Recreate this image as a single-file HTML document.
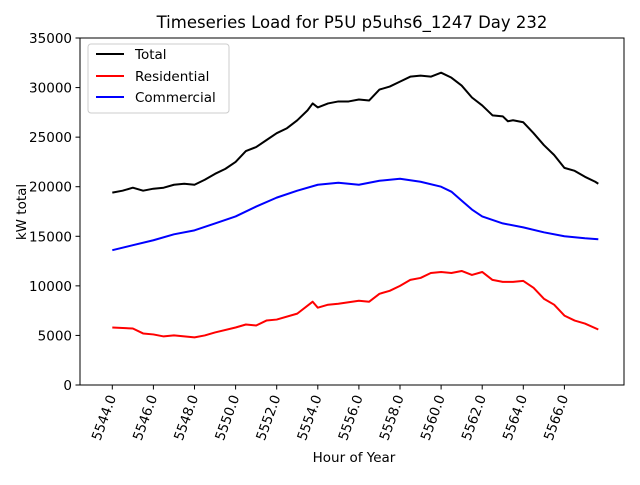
<!DOCTYPE html>
<html><head><meta charset="utf-8"><style>
body{margin:0;background:#fff}
svg{font-family:"DejaVu Sans","Liberation Sans",sans-serif}
</style></head><body>
<svg id="chart" width="640" height="480" viewBox="0 0 640 480">
<rect width="640" height="480" fill="#fff"/>
<text x="352" y="28" text-anchor="middle" font-size="16.5">Timeseries Load for P5U p5uhs6_1247  Day 232</text>
<g id="grid"></g>
<g id="series"></g>
<rect x="80" y="38" width="544" height="347" fill="none" stroke="#000" stroke-width="1"/>
<text x="354" y="462" text-anchor="middle" font-size="13.5">Hour of Year</text>
<text transform="translate(26,212) rotate(-90)" text-anchor="middle" font-size="13.5">kW total</text>
<g>
<rect x="88" y="44" width="141" height="69" rx="3" fill="#fff" fill-opacity="0.8" stroke="#ccc"/>
<g><line x1="96" y1="54" x2="124" y2="54" stroke="#000" stroke-width="2"/><text x="135" y="59" font-size="13.5">Total</text></g>
<g><line x1="96" y1="76" x2="124" y2="76" stroke="red" stroke-width="2"/><text x="135" y="81" font-size="13.5">Residential</text></g>
<g><line x1="96" y1="97" x2="124" y2="97" stroke="blue" stroke-width="2"/><text x="135" y="102" font-size="13.5">Commercial</text></g>
</g>
</svg>
<script>
const xTicks=[5544,5546,5548,5550,5552,5554,5556,5558,5560,5562,5564,5566];
const yTicks=[0,5000,10000,15000,20000,25000,30000,35000];
const totalHours=[5544,5544.5,5545,5545.5,5546,5546.5,5547,5547.5,5548,5548.5,5549,5549.5,5550,5550.5,5551,5551.5,5552,5552.5,5553,5553.5,5553.75,5554,5554.5,5555,5555.5,5556,5556.5,5557,5557.5,5558,5558.5,5559,5559.5,5560,5560.5,5561,5561.5,5562,5562.5,5563,5563.25,5563.5,5564,5564.5,5565,5565.5,5566,5566.5,5567,5567.5,5567.65];
const totalVals=[19400,19600,19900,19600,19800,19900,20200,20300,20200,20700,21300,21800,22500,23600,24000,24700,25400,25900,26700,27700,28400,28000,28400,28600,28600,28800,28700,29800,30100,30600,31100,31200,31100,31500,31000,30200,29000,28200,27200,27100,26600,26700,26500,25400,24200,23200,21900,21600,21000,20500,20300];
const comHours=[5544,5545,5546,5547,5548,5549,5550,5551,5552,5553,5554,5555,5556,5557,5558,5559,5560,5560.5,5561,5561.5,5562,5563,5564,5565,5566,5567,5567.65];
const comVals=[13600,14100,14600,15200,15600,16300,17000,18000,18900,19600,20200,20400,20200,20600,20800,20500,20000,19500,18600,17700,17000,16300,15900,15400,15000,14800,14700];
const resHours=[5544,5545,5545.5,5546,5546.5,5547,5548,5548.5,5549,5550,5550.5,5551,5551.5,5552,5553,5553.5,5553.75,5554,5554.5,5555,5556,5556.5,5557,5557.5,5558,5558.5,5559,5559.5,5560,5560.5,5561,5561.5,5562,5562.5,5563,5563.5,5564,5564.5,5565,5565.5,5566,5566.5,5567,5567.65];
const resVals=[5800,5700,5200,5100,4900,5000,4800,5000,5300,5800,6100,6000,6500,6600,7200,8000,8400,7800,8100,8200,8500,8400,9200,9500,10000,10600,10800,11300,11400,11300,11500,11100,11400,10600,10400,10400,10500,9800,8700,8100,7000,6500,6200,5600];
const X=h=>112.3+(h-5544)*20.55;
const Y=v=>385-v*347/35000;
const NS='http://www.w3.org/2000/svg';
const grid=document.getElementById('grid'),ser=document.getElementById('series');
function mk(tag,attrs,parent){const e=document.createElementNS(NS,tag);for(const k in attrs)e.setAttribute(k,attrs[k]);parent.appendChild(e);return e;}
xTicks.forEach(t=>{const x=X(t);
const l=mk('line',{x1:x,y1:385,x2:x,y2:389.5,stroke:'#000'},grid);


const tx=mk('text',{transform:`translate(${x+4},${397}) rotate(-70)`,'text-anchor':'end','font-size':'13.5'},grid);
tx.textContent=t.toFixed(1);

});
yTicks.forEach(t=>{const y=Y(t);
const l=mk('line',{x1:75.5,y1:y,x2:80,y2:y,stroke:'#000'},grid);


const tx=mk('text',{x:72,y:y+5,'text-anchor':'end','font-size':'13.5'},grid);
tx.textContent=t;

});
function line(hs,vs,color,name){const p=mk('polyline',{points:hs.map((h,i)=>X(h)+','+Y(vs[i])).join(' '),fill:'none',stroke:color,'stroke-width':2,'stroke-linejoin':'round'},ser);

}
line(totalHours,totalVals,'#000','total-line');
line(resHours,resVals,'red','residential-line');
line(comHours,comVals,'blue','commercial-line');
</script>
</body></html>
